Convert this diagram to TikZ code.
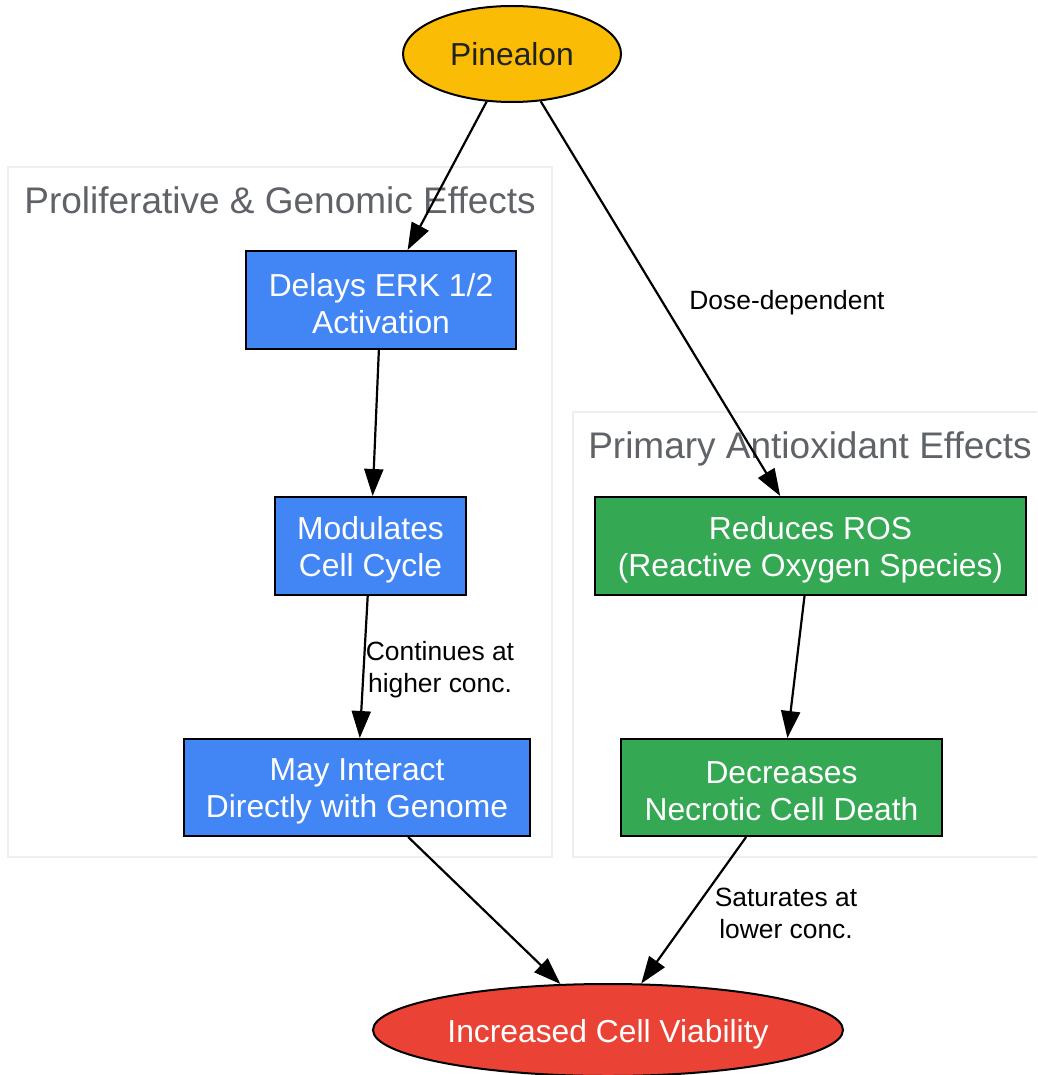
\documentclass[tikz,border=0pt]{standalone}
\usepackage{fontspec}
\setmainfont{Liberation Sans}
\usetikzlibrary{shapes.geometric,arrows.meta}
\definecolor{gblue}{HTML}{4285F4}
\definecolor{ggreen}{HTML}{34A853}
\definecolor{gred}{HTML}{EA4335}
\definecolor{gyellow}{HTML}{FBBC05}
\definecolor{cgray}{HTML}{5F6368}
\definecolor{cborder}{HTML}{EEEEEE}
\definecolor{dtext}{HTML}{202124}
\tikzset{
  nodefont/.style={font=\fontsize{31.8}{37}\selectfont},
  btext/.style={text=white, align=center, nodefont, inner sep=0pt, yshift=-3.5pt},
  box/.style={draw=black, line width=2pt, rectangle, inner sep=0pt},
  oval/.style={draw=black, line width=2pt, ellipse, inner sep=0pt, align=center, nodefont},
  cluster/.style={draw=cborder, line width=2.5pt},
  clabel/.style={text=cgray, font=\fontsize{37}{44}\selectfont, inner sep=0pt},
  elabel/.style={text=black, font=\fontsize{26.4}{32}\selectfont, align=center, inner sep=0pt},
  edge/.style={draw=black, line width=2.2pt, -{Triangle[length=27pt,width=19pt]}}
}
\begin{document}
\begin{tikzpicture}[x=1pt,y=-1pt]
\clip (0,0) rectangle (1037,1075);
\fill[white] (0,0) rectangle (1037,1075);
% clusters
\draw[cluster] (8,167) rectangle (552,857);
\node[clabel] (cl1) at (280,200) {Proliferative \& Genomic Effects};
\draw[cluster] (573,412) rectangle (1045,857);
\node[clabel] (cl2) at (810,449) {Primary Antioxidant Effects};
% nodes
\node[oval, fill=gyellow, text=dtext, minimum width=218pt, minimum height=96pt] (pin) at (512,54) {Pinealon};
\node[box, fill=gblue, minimum width=270pt, minimum height=98pt,
  label={[btext]center:Delays ERK 1/2\\Activation}] (erk) at (381,300) {};
\node[box, fill=gblue, minimum width=191pt, minimum height=98pt,
  label={[btext]center:Modulates\\Cell Cycle}] (mod) at (370.5,546) {};
\node[box, fill=gblue, minimum width=346pt, minimum height=97pt,
  label={[btext]center:May Interact\\Directly with Genome}] (may) at (357,787.5) {};
\node[box, fill=ggreen, minimum width=431pt, minimum height=98pt,
  label={[btext]center:Reduces ROS\\(Reactive Oxygen Species)}] (ros) at (810.5,546) {};
\node[box, fill=ggreen, minimum width=321pt, minimum height=97pt,
  label={[btext]center:Decreases\\Necrotic Cell Death}] (dec) at (781.5,787.5) {};
\node[oval, fill=gred, minimum width=470pt, minimum height=92pt,
  label={[btext, yshift=-1pt]center:Increased Cell Viability}] (inc) at (608,1030) {};
% edges
\draw[edge] (pin) -- (erk);
\draw[edge] (pin) -- (ros);
\draw[edge] (erk) -- (mod);
\draw[edge] (mod) -- (may);
\draw[edge] (ros) -- (dec);
\draw[edge] (may) -- (inc);
\draw[edge] (dec) -- (inc);
% edge labels
\node[elabel] (l1) at (787,303) {Dose-dependent};
\node[elabel] (l2) at (440,670) {Continues at\\higher conc.};
\node[elabel] (l3) at (786,913) {Saturates at\\lower conc.};
\end{tikzpicture}
\end{document}
